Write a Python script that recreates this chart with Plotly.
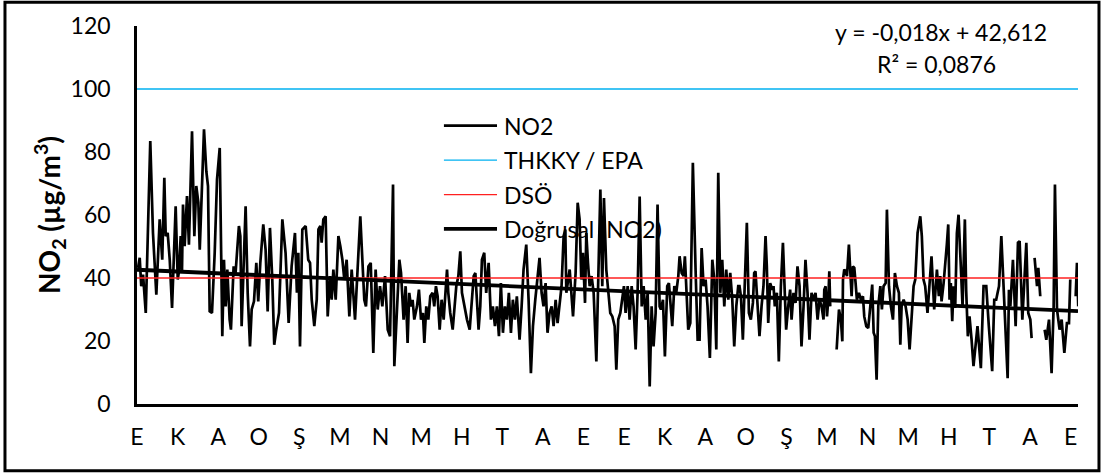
import plotly.graph_objects as go

# ---------------- data ----------------
month_labels = ["E", "K", "A", "O", "Ş", "M", "N", "M", "H", "T", "A", "E",
                "E", "K", "A", "O", "Ş", "M", "N", "M", "H", "T", "A", "E"]

day_1 = [0.8, 2.1, 3.3, 4.7, 6.8, 10.3, 12.4, 15.0, 17.6, 19.6, 21.2, 22.3, 23.8, 25.4, 27.2, 30.0,
         31.6, 32.6, 33.9, 34.9, 35.7, 37.0, 38.8, 40.3, 42.7, 44.5, 46.0, 47.6, 48.7, 52.0, 53.8,
         55.1, 56.4, 58.2, 60.3, 62.1, 64.2, 66.2,
         67.5, 68.8, 70.1, 71.9, 72.9, 75.0, 76.5, 79.1, 80.2, 81.2, 84.3, 85.9, 87.7, 89.0, 90.8,
         92.6, 94.1, 95.7, 98.0, 99.8, 101.4, 103.2, 105.0, 106.5, 108.1, 110.2, 112.8, 115.3,
         117.7, 120.0, 122.6, 124.1, 125.2, 126.5, 128.3, 130.9, 132.9]
no2_1 = [43.2, 46.4, 37.4, 41.1, 28.9, 83.5, 54.3, 34.7, 58.6, 45.8, 71.8, 53.3, 54.3, 45.8, 30.5, 62.8,
         39.5, 42.2, 53.3, 41.6, 63.3, 50.1, 66.0, 50.6, 86.6, 53.3, 69.2, 63.9, 49.0, 87.2, 73.9,
         69.2, 29.4, 28.9, 48.0, 71.3, 81.3, 21.5,
         45.8, 31.0, 42.7, 26.8, 23.6, 43.7, 41.6, 56.5, 53.3, 24.7, 62.8, 35.3, 18.3, 30.0, 32.6,
         44.8, 32.6, 44.8, 57.0, 49.0, 29.4, 55.9, 39.5, 18.8, 23.6, 28.9, 58.6, 48.0,
         25.7, 43.7, 54.3, 35.3, 48.0, 18.3, 55.4, 56.5, 45.8]

day_2 = [134.3, 135.6, 137.6, 139.5, 140.8, 142.3, 143.3, 144.6, 146.4, 148.0, 149.8, 151.1, 152.4,
         154.2, 156.3, 157.8, 159.4, 160.9, 162.7, 164.8, 166.6, 169.2, 171.3, 173.3, 174.9, 176.4,
         177.7, 179.6, 181.4, 183.4, 185.2, 186.8, 188.6, 190.4, 192.5, 194.6, 196.4, 197.7, 198.7, 199.7,
         202.3, 203.6, 204.9, 206.9, 208.5, 210.0, 211.3, 212.6, 213.9, 215.2, 217.3, 218.8, 220.4,
         221.9, 223.0, 224.5, 226.1, 227.6, 229.4, 230.7, 232.0, 233.3, 234.9, 236.4, 238.0, 239.0,
         240.6, 241.6, 243.1, 245.0, 246.3, 247.8, 249.4, 250.9, 252.2, 254.0, 256.1, 258.2, 259.7,
         261.3, 262.6, 263.8, 265.1, 266.4]
no2_2 = [44.8, 33.1, 24.7, 33.1, 55.4, 56.5, 51.2, 58.6, 59.6, 27.8, 40.6, 33.1, 42.7,
         33.1, 53.3, 50.1, 45.8, 39.5, 45.8, 27.8, 42.7, 26.8, 41.6, 59.6, 45.8, 33.1,
         31.0, 43.7, 44.8, 16.2, 42.7, 30.0, 37.4, 31.0, 40.6, 23.6, 21.5, 48.0, 69.7, 12.0,
         37.4, 45.8, 41.6, 26.8, 37.4, 19.4, 35.3, 31.0, 33.1, 26.8, 31.0, 36.3, 26.8,
         28.9, 19.4, 31.0, 26.8, 34.2, 35.3, 31.0, 37.4, 34.2, 23.6, 33.1, 26.8, 33.1,
         42.7, 35.3, 28.9, 23.6, 31.0, 37.4, 40.6, 48.5, 35.3, 31.0, 26.8, 23.6, 33.1,
         40.6, 41.6, 33.1, 23.6, 31.0]

day_3 = [267.7, 269.5, 271.0, 272.9, 274.7, 276.2, 277.8, 279.3, 280.9, 282.4, 284.0, 285.5, 287.1,
         288.6, 290.2, 291.7, 293.3, 294.8, 296.9, 298.5, 300.0, 302.1, 303.9, 305.7, 307.3, 309.1,
         310.9, 312.4, 314.0, 315.5, 317.1, 318.6, 320.2, 321.8, 323.3, 324.9, 326.4, 328.0, 329.5,
         331.1, 332.4,
         333.2, 335.8, 338.4, 340.4, 342.0, 343.5, 344.8, 346.1, 347.7, 348.7, 350.0, 351.3, 352.8,
         354.4, 356.5, 358.0, 359.6, 361.1, 362.4, 364.2, 365.8, 367.3, 368.9, 370.7, 372.0, 373.5,
         375.1, 376.6, 377.9, 379.2, 380.8, 382.3, 383.9, 385.4, 387.0, 388.5, 390.1, 391.7, 393.2,
         394.8, 396.3, 397.9, 399.4]
no2_3 = [45.8, 48.0, 35.3, 44.8, 26.8, 31.0, 24.7, 31.0, 21.5, 38.4, 22.6, 31.0, 26.8,
         35.3, 22.6, 33.1, 26.8, 34.2, 20.4, 31.0, 42.7, 50.6, 33.1, 9.8, 24.7, 33.1,
         40.6, 46.4, 35.3, 31.0, 38.4, 22.6, 28.9, 31.0, 24.7, 33.1, 25.7, 33.1, 37.4,
         53.3, 55.4,
         35.3, 42.7, 27.8, 41.6, 63.9, 58.6, 39.5, 48.0, 32.1, 54.3, 44.8, 37.4, 40.6,
         35.3, 13.5, 45.8, 68.1, 37.4, 65.4, 42.7, 35.3, 28.9, 27.8, 24.7, 10.9, 26.8,
         28.9, 33.1, 37.4, 28.9, 37.4, 26.8, 37.4, 31.0, 17.3, 35.3, 65.9, 31.0, 37.4,
         26.8, 35.3, 5.6, 31.0]

day_4 = [400.9, 402.5, 404.0, 405.6, 406.6, 408.2, 409.7, 411.5, 412.8, 413.9, 415.4, 417.0, 418.5,
         420.1, 421.1, 422.7, 424.2, 425.2, 426.8, 427.8, 429.4, 431.4, 433.5, 435.1, 436.6, 438.2,
         439.7, 441.3, 442.8, 444.6, 446.5, 448.0, 449.6, 451.1, 452.7, 454.2, 455.8, 457.3, 458.9,
         460.4, 462.0, 463.5, 465.1, 466.6,
         467.6, 468.7, 470.2, 471.8, 473.3, 474.9, 476.4, 478.0, 479.0, 480.0, 481.6, 483.1, 484.7,
         486.2, 487.8, 488.8, 489.9, 491.4, 493.0, 494.0, 495.0, 496.6, 498.1, 499.7, 501.3, 502.8,
         503.8, 505.4, 506.9, 508.0, 509.5, 511.1, 512.6, 514.2, 515.7, 517.3, 518.8, 520.4, 521.9,
         523.5, 525.1, 526.6, 528.2, 529.7, 531.3, 532.8]
no2_4 = [18.3, 28.9, 63.3, 31.0, 30.0, 33.1, 15.1, 37.4, 38.4, 31.0, 24.7, 37.4, 35.3,
         40.6, 46.9, 41.6, 40.6, 46.9, 28.9, 23.6, 25.7, 76.6, 42.7, 20.4, 20.4, 49.5,
         37.4, 39.5, 31.0, 14.6, 45.8, 39.5, 17.3, 73.4, 35.3, 45.8, 31.0, 42.7, 33.1,
         41.6, 33.1, 18.3, 31.0, 37.4,
         37.4, 34.2, 20.4, 42.7, 57.5, 28.9, 26.8, 32.1, 41.6, 42.1, 30.0, 21.5, 31.0,
         37.4, 53.3, 43.7, 25.7, 38.4, 36.3, 37.4, 31.0, 35.3, 13.5, 37.4, 51.2, 35.3,
         23.6, 31.0, 36.3, 26.8, 35.3, 32.1, 43.7, 37.4, 18.3, 31.0, 45.8, 35.3, 20.4,
         35.3, 33.1, 35.3, 26.8, 33.1, 31.0, 26.8]

day_5 = [533.4, 534.4, 535.5, 536.5, 537.3, 538.0, 540.5, 543.0, 544.8, 546.3, 547.4, 547.9, 548.9,
         550.0, 551.0, 552.5, 553.6, 554.6, 555.6, 556.7, 557.7, 558.7, 560.3, 561.8, 563.4, 564.4,
         566.0, 567.5, 569.1, 570.6, 571.7, 572.7, 574.0, 575.3, 576.9, 578.1, 579.4, 581.0, 582.0,
         583.6, 585.1, 586.7, 588.2, 589.8, 591.3, 592.4, 593.4, 595.0, 596.5, 598.1, 599.6,
         602.7, 604.0, 605.8, 607.9, 609.1, 610.4, 611.7, 613.5, 614.6, 616.6, 618.7, 620.8,
         622.3, 623.4, 624.4, 626.0, 628.5, 629.6, 630.6, 631.6, 632.7, 633.7, 635.0, 636.3, 637.6,
         639.4, 640.7, 642.5, 643.5, 644.8, 646.1, 647.7, 649.2, 652.3, 654.9, 657.0, 659.1, 661.1,
         663.7, 665.3, 666.8]
no2_5 = [36.3, 37.4, 27.8, 33.1, 42.1, 31.0, None, 17.3, 30.0, 26.8, 19.9, 39.5, 42.7,
         42.1, 40.6, 50.6, 40.6, 34.2, 43.7, 43.2, 38.4, 33.1, 35.3, 33.1, 34.2, 27.8,
         24.7, 24.1, 31.0, 37.9, 22.6, 21.5, 7.7, 31.0, 37.4, 30.0, 37.4, 38.4, 61.7,
         37.4, 31.0, 26.8, 41.6, 37.4, 35.3, 18.8, 31.0, 33.1, 31.0, 26.8, 17.3,
         37.4, 39.5, 54.3, 59.6, 53.3, 39.5, 37.4, 28.9, 35.3, 46.9, 30.0, 42.7,
         34.2, 40.6, 32.6, 38.4, 50.6, 57.0, 33.1, 38.4, 26.3, 37.4, 30.5, 54.3, 60.1,
         42.7, 31.0, 58.6, 36.3, 21.5, 27.8, 20.4, 12.0, 24.7, 11.4, 37.4, 37.4, 24.7,
         10.4, 33.1, 33.1]

day_6 = [667.9, 669.0, 670.8, 675.7, 676.7, 677.8, 679.8, 681.9, 683.7, 685.0, 687.1, 688.6, 690.2,
         691.7, 693.3, 694.3, 695.5, 696.6, 698.5, 699.5, 701.0, 702.7, 704.4, 705.7, 707.8, 709.8,
         711.4, 712.4, 714.0, 716.0, 717.6, 719.7, 721.7, 723.3, 724.3, 726.4, 728.5, 729.5, 730.5]
no2_6 = [35.3, 37.4, 53.3, 8.2, 36.3, 31.0, 45.8, 24.7, 51.2, 51.7, 26.8, 38.4, 51.2,
         28.9, 26.8, 20.9, None, 46.4, 37.4, 43.2, 34.2, None, 23.6, 20.4, 26.8, 9.8,
         31.0, 69.7, 30.0, 23.6, 26.8, 16.2, 25.7, 25.7, 39.5, None, 34.2, 44.8, 31.0]

epa_limit = 100          # THKKY / EPA
dso_limit = 40           # DSÖ
trend_slope = -0.018     # y = -0,018x + 42,612
trend_intercept = 42.612
n_days = 730.3
month_step = 31.5

# ---------------- assemble ----------------
days = day_1 + day_2 + day_3 + day_4 + day_5 + day_6
no2 = no2_1 + no2_2 + no2_3 + no2_4 + no2_5 + no2_6
assert len(days) == len(no2)

FONT = "Lato"
DATA_W = 2.7
TREND_W = 3.8
fig = go.Figure()
fig.add_trace(go.Scatter(x=days, y=no2, mode="lines", name="NO2",
                         line=dict(color="black", width=DATA_W), connectgaps=False))
fig.add_trace(go.Scatter(x=[0, n_days], y=[epa_limit, epa_limit], mode="lines",
                         name="THKKY / EPA", line=dict(color="#00B0F0", width=1.3)))
fig.add_trace(go.Scatter(x=[0, n_days], y=[dso_limit, dso_limit], mode="lines",
                         name="DSÖ", line=dict(color="#FF2020", width=1.3)))
tx = [0, n_days]
fig.add_trace(go.Scatter(x=tx, y=[trend_intercept + trend_slope * v for v in tx], mode="lines",
                         name="Doğrusal (NO2)", line=dict(color="black", width=TREND_W)))

# manual legend (inside the plot, like the original)
legend_items = [("NO2", "black", DATA_W), ("THKKY / EPA", "#00B0F0", 1.3),
                ("DSÖ", "#FF2020", 1.3), ("Doğrusal (NO2)", "black", TREND_W)]
legend_y = [88.4, 77.4, 66.5, 55.6]
shapes = []
annotations = []
for (label, col, w), ly in zip(legend_items, legend_y):
    shapes.append(dict(type="line", xref="x", yref="y", x0=238.2, x1=279.4, y0=ly, y1=ly,
                       line=dict(color=col, width=w)))
    annotations.append(dict(x=283.0, y=ly, xref="x", yref="y", text=label, showarrow=False,
                            xanchor="left", yanchor="middle",
                            font=dict(family=FONT, size=23, color="black")))

annotations.append(dict(x=0.8544, y=0.9833, xref="paper", yref="paper",
                        text="y = -0,018x + 42,612", showarrow=False,
                        xanchor="center", yanchor="middle",
                        font=dict(family=FONT, size=23, color="black")))
annotations.append(dict(x=0.850, y=0.8986, xref="paper", yref="paper",
                        text="R² = 0,0876", showarrow=False,
                        xanchor="center", yanchor="middle",
                        font=dict(family=FONT, size=23, color="black")))
annotations.append(dict(x=-0.0935, y=0.50, xref="paper", yref="paper",
                        text="<b>NO<sub>2</sub> (µg/m<sup>3</sup>)</b>", showarrow=False,
                        textangle=-90, xanchor="center", yanchor="middle",
                        font=dict(family=FONT, size=28, color="black")))

# outer frame
shapes.append(dict(type="rect", xref="paper", yref="paper",
                   x0=-0.1403, x1=1.0223, y0=-0.1765, y1=1.0628,
                   line=dict(color="black", width=3), fillcolor="rgba(0,0,0,0)", layer="above"))

fig.update_layout(
    width=1105, height=476,
    margin=dict(l=137, r=27, t=26, b=72),
    paper_bgcolor="white", plot_bgcolor="white",
    showlegend=False,
    font=dict(family=FONT, size=23, color="black"),
    xaxis=dict(range=[0, n_days], tickmode="array",
               tickvals=[i * month_step for i in range(len(month_labels))],
               ticktext=month_labels, showgrid=False, zeroline=False,
               showline=True, linecolor="black", linewidth=2.5, ticks="",
               ticklabelstandoff=11, tickfont=dict(family=FONT, size=23)),
    yaxis=dict(range=[0, 120], tickmode="array", tickvals=list(range(0, 121, 20)),
               showgrid=False, zeroline=False, showline=True, linecolor="black",
               linewidth=2.5, ticks="", ticklabelstandoff=19,
               tickfont=dict(family=FONT, size=23)),
    shapes=shapes,
    annotations=annotations,
)

fig.write_html("out.html")
